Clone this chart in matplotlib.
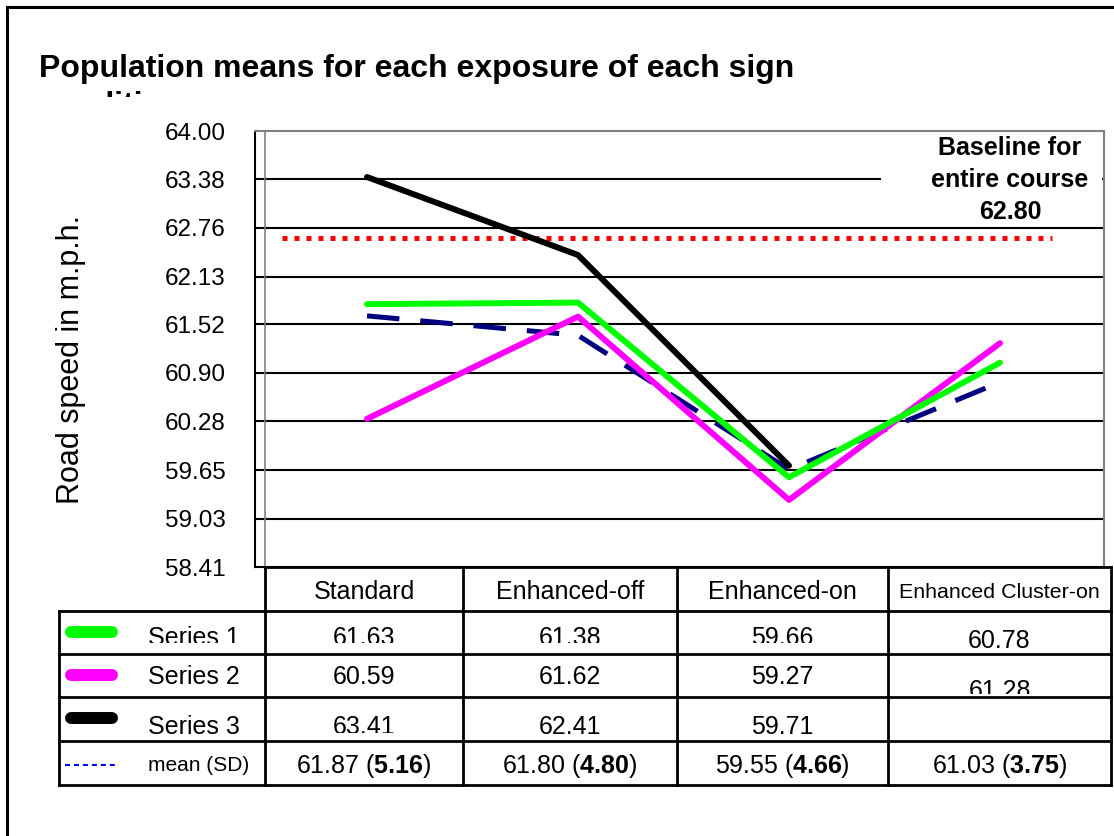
import numpy as np
import matplotlib
matplotlib.use('Agg')
import matplotlib.pyplot as plt
from matplotlib.patches import Rectangle
from matplotlib.transforms import Bbox, TransformedBbox

plt.rcParams['font.family'] = ['Liberation Sans', 'DejaVu Sans']
plt.rcParams['mathtext.fontset'] = 'custom'
plt.rcParams['mathtext.rm'] = 'Liberation Sans'
plt.rcParams['mathtext.bf'] = 'Liberation Sans:bold'

# categories (x axis / table header)
categories = ['Standard', 'Enhanced-off', 'Enhanced-on', 'Enhanced Cluster-on']

# values as the lines are drawn in the chart
green_line = [61.78, 61.80, 59.56, 61.03]
magenta_line = [60.31, 61.62, 59.27, 61.28]
black_line = [63.41, 62.41, 59.71, np.nan]
navy_line = [61.63, 61.38, 59.66, 60.78]
baseline_value = 62.63
baseline_label = ['Baseline for', 'entire course', '62.80']

# values printed in the data table
series_names = ['Series 1', 'Series 2', 'Series 3']
series1 = ['61.63', '61.38', '59.66', '60.78']
series2 = ['60.59', '61.62', '59.27', '61.28']
series3 = ['63.41', '62.41', '59.71', '']
means = ['61.87', '61.80', '59.55', '61.03']
sds = ['5.16', '4.80', '4.66', '3.75']

yticks = [58.41, 59.03, 59.65, 60.28, 60.90, 61.52, 62.13, 62.76, 63.38, 64.00]

title = 'Population means for each exposure of each sign'
title2 = 'conditions'
ylabel = 'Road speed in m.p.h.'

W, H = 1114, 836
fig = plt.figure(figsize=(W / 100, H / 100), dpi=100)


def px_rect(left, top, right, bottom):
    return [left / W, (H - bottom) / H, (right - left) / W, (bottom - top) / H]


# --- main plot area ---
ax = fig.add_axes(px_rect(255, 131, 1104, 567))
x = np.arange(len(categories))
ax.plot(x, navy_line, color='#000080', lw=3.6, dashes=(6.5, 4.2), zorder=3)
ax.plot(x, magenta_line, color='#ff00ff', lw=4.3, solid_capstyle='round', zorder=4)
ax.plot(x, green_line, color='#00ff00', lw=4.3, solid_capstyle='round', zorder=5)
ax.plot(x, black_line, color='black', lw=4.3, solid_capstyle='round', zorder=6)
ax.axhline(baseline_value, xmin=0.032, xmax=0.939, color='red', lw=3.6,
           dashes=(1, 1.4), zorder=2)
for t in yticks[1:-1]:
    ax.axhline(t, color='black', lw=1.5, zorder=1)

ax.set_xlim(-112 / 211, 737 / 211)
ax.set_ylim(yticks[0], yticks[-1])
ax.set_yticks(yticks)
ax.set_yticklabels([f'{v:.2f}' for v in yticks], fontsize=17.5)
ax.tick_params(axis='y', length=0, pad=21)
ax.set_xticks([])
for side in ['left', 'bottom']:
    ax.spines[side].set_color('black')
    ax.spines[side].set_linewidth(1.5)
for side in ['top', 'right']:
    ax.spines[side].set_color('#808080')
    ax.spines[side].set_linewidth(1.5)

# --- overlay in pixel coordinates for frame, titles and the data table ---
ov = fig.add_axes([0, 0, 1, 1], zorder=5)
ov.set_xlim(0, W)
ov.set_ylim(H, 0)
ov.axis('off')


def clipped(txt, y_cut):
    # hide whatever falls below y_cut (pixel row), like the cut-off cells
    txt.set_clip_on(True)
    txt.set_clip_box(TransformedBbox(Bbox([[0, 0], [W, y_cut]]), ov.transData))


# outer frame
ov.plot([7, W], [7, 7], color='black', lw=2.2)
ov.plot([7, 7], [7, H], color='black', lw=2.2)

# title, second line mostly hidden
ov.text(39, 77, title, fontsize=23, fontweight='bold', va='baseline')
t2 = ov.text(39, 114, title2, fontsize=23, fontweight='bold', va='baseline')
clipped(t2, 97)

ov.text(71, 360, ylabel, rotation=90, ha='center', va='center', fontsize=22)

# baseline annotation
ov.add_patch(Rectangle((881, 135), 221, 87, facecolor='white', edgecolor='none'))
for i, line in enumerate(baseline_label):
    ov.text(1010, 155 + 32 * i, line, ha='center', va='baseline',
            fontsize=18, fontweight='bold')

# gray inner edge of the plot area
ov.plot([265, 265], [132, 567], color='#808080', lw=1.2)

# data table grid
col_x = [265, 463, 677, 888, 1111]
row_y = [567, 611, 654, 697, 741, 785]
col_c = [(a + b) / 2 for a, b in zip(col_x[:-1], col_x[1:])]
ov.plot([265, 1111], [567, 567], color='black', lw=2)
for y in row_y[1:]:
    ov.plot([59, 1111], [y, y], color='black', lw=2)
for xc in col_x:
    ov.plot([xc, xc], [567, 785], color='black', lw=2)
ov.plot([59, 59], [611, 785], color='black', lw=2)

# header
for c, name in enumerate(categories):
    small = len(name) > 15
    ov.text(col_c[c], 598 if small else 599, name, ha='center', va='baseline',
            fontsize=15.4 if small else 18)

# series rows
rows = [series1, series2, series3]
row_base = [645, 684, 734]
cuts = {(0, -1): 643, (0, 0): 643, (0, 1): 643, (0, 2): 643,
        (1, 3): 694, (2, 0): 733}
shift = {(0, 3): 3, (1, 3): 14}
colors = ['#00ff00', '#ff00ff', 'black']
for r, vals in enumerate(rows):
    yb = row_base[r]
    ymid = (row_y[r + 1] + row_y[r + 2]) / 2
    ov.plot([71, 112], [ymid - 1, ymid - 1], color=colors[r], lw=8.6,
            solid_capstyle='round')
    lab = ov.text(148, yb, series_names[r], fontsize=18, va='baseline')
    if (r, -1) in cuts:
        clipped(lab, cuts[(r, -1)])
    for c, v in enumerate(vals):
        t = ov.text(col_c[c], yb + shift.get((r, c), 0), v, ha='center',
                    va='baseline', fontsize=18)
        if (r, c) in cuts:
            clipped(t, cuts[(r, c)])

# mean (SD) row
ov.plot([65, 115], [765, 765], color='#0000ff', lw=1.5, dashes=(2.4, 1.9))
ov.text(148, 771, 'mean (SD)', fontsize=15, va='baseline')
for c in range(len(means)):
    ov.text(col_c[c], 773, rf'{means[c]} ($\mathbf{{{sds[c]}}}$)', ha='center',
            va='baseline', fontsize=18)

fig.savefig('out.png', dpi=100)
